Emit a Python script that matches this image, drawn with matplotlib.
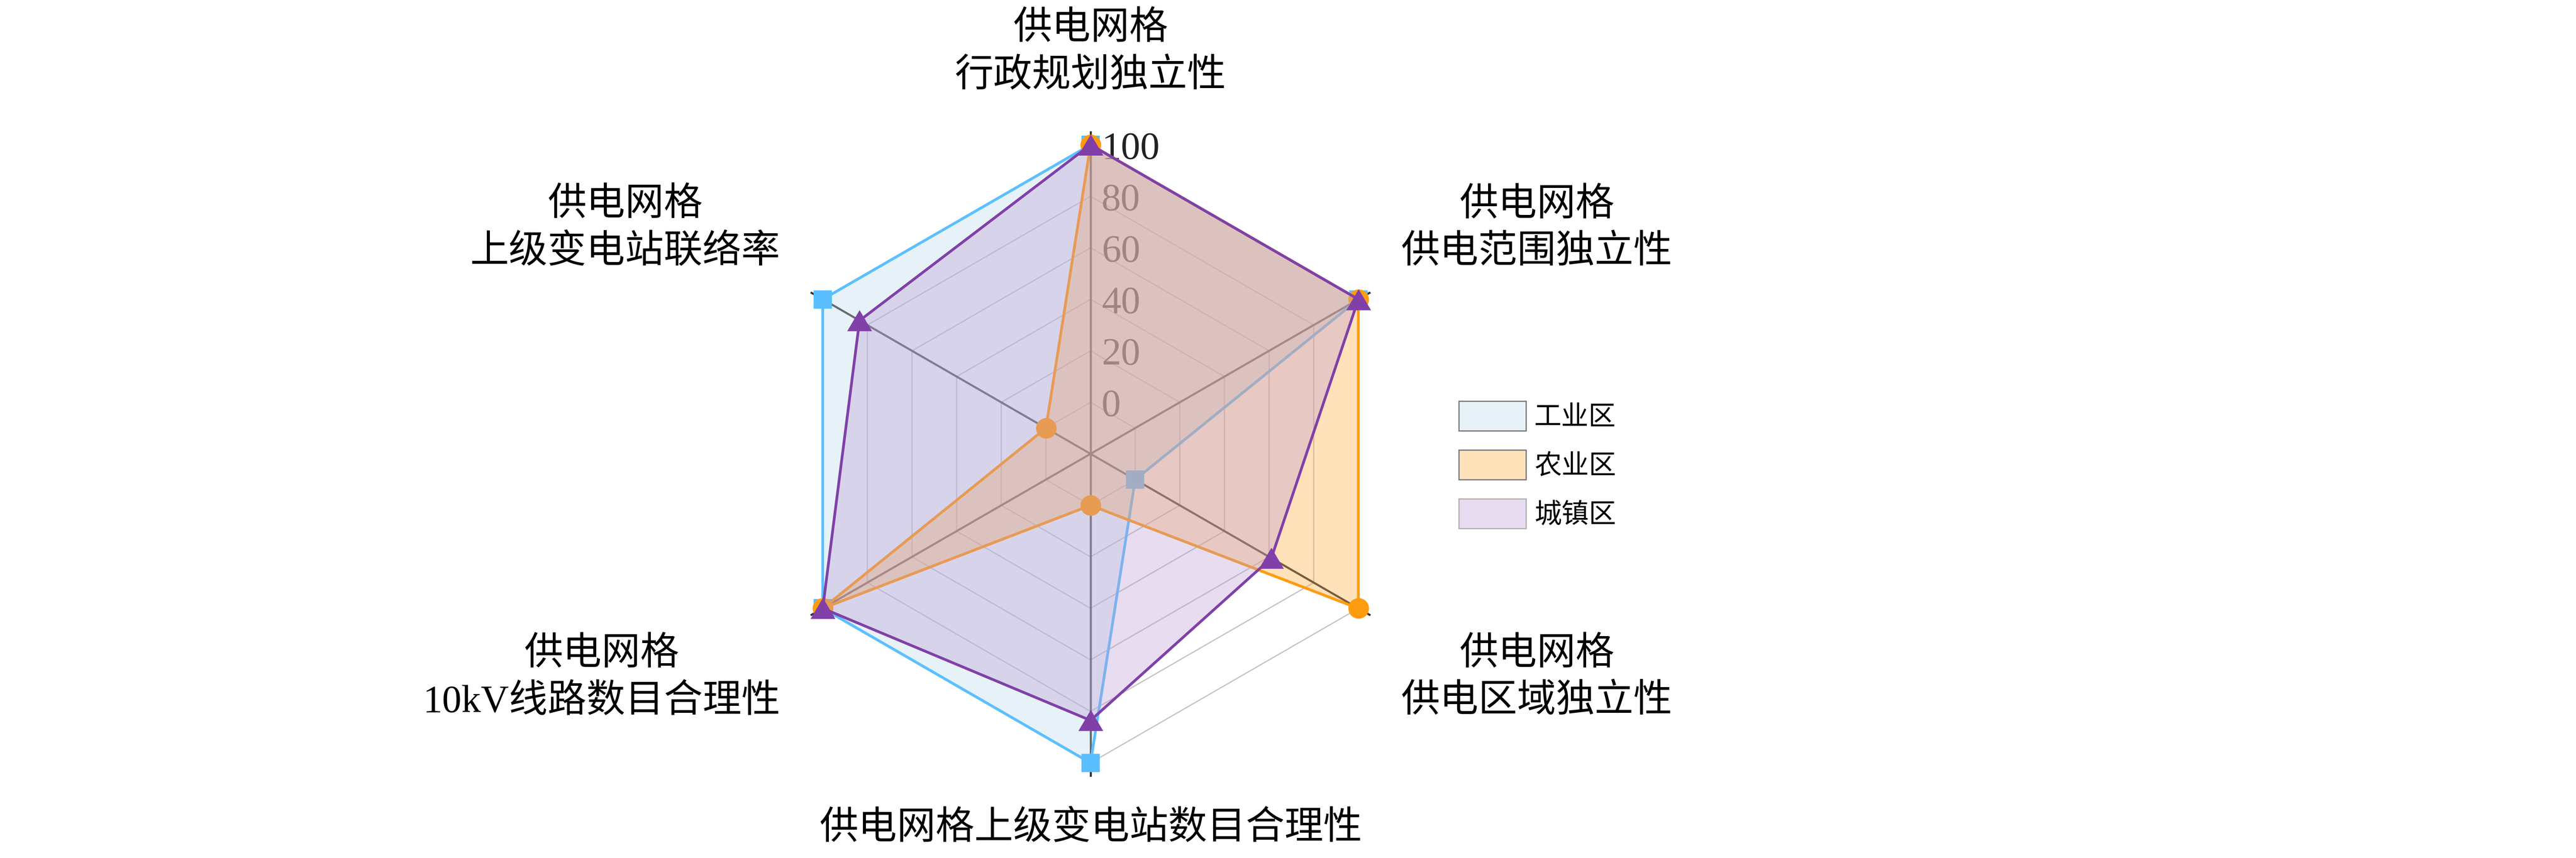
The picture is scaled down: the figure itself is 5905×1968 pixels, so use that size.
import matplotlib
matplotlib.use('Agg')
import matplotlib.pyplot as plt
import numpy as np
from matplotlib.patches import Patch
from matplotlib.colors import to_rgba

plt.rcParams['font.family'] = ['Liberation Serif', 'Noto Sans CJK SC']

# 指标（从正上方开始顺时针）
categories = ['供电网格\n行政规划独立性', '供电网格\n供电范围独立性', '供电网格\n供电区域独立性',
              '供电网格上级变电站数目合理性', '供电网格\n10kV线路数目合理性', '供电网格\n上级变电站联络率']
series_names = ['工业区', '农业区', '城镇区']
industrial = [100, 100, 0, 100, 100, 100]
agricultural = [100, 100, 100, 0, 100, 0]
urban = [100, 100, 61, 83.5, 100, 83.5]
ring_ticks = [0, 20, 40, 60, 80, 100]
R_MIN, R_MAX = -20, 100

# 样式
line_colors = ['#5BBFFF', '#FF9B0F', '#8040A8']
fill_colors = ['#B8D7EB', '#FFA93A', '#BD9BD4']
legend_edges = ['#7A7A7A', '#7A7A7A', '#B0B0B0']
FILL_ALPHA = 0.35
tri = [(0, 0.85), (-1, -0.85), (1, -0.85), (0, 0.85)]
markers = [('s', 30), ('o', 34), (tri, 41)]

# 标签位置（角度、半径、对齐）
label_theta = [0, 54.1, 125.9, 180, 234.1, 305.9]
label_r = [135.7, 128.7, 128.7, 125.7, 128.7, 128.7]
label_ha = ['center', 'left', 'left', 'center', 'right', 'right']

fig = plt.figure(figsize=(59.05, 19.68), dpi=100)
ax = fig.add_axes([0.3033, 0.1108, 0.2401, 0.7205], projection='polar')
ax.set_theta_zero_location('N')
ax.set_theta_direction(-1)
ax.set_autoscale_on(False)
ax.set_ylim(R_MIN, R_MAX)
ax.axis('off')

angles = np.deg2rad(np.arange(len(categories)) * 360 / len(categories))
ang_c = np.append(angles, angles[0])

# 网格
for r in ring_ticks:
    ax.plot(ang_c, [r] * len(ang_c), color='#C4C4C4', lw=2, zorder=1, clip_on=False)
for a in angles:
    ax.plot([a, a], [R_MIN, R_MAX + 5], color='#333333', lw=3.4, zorder=1.5, clip_on=False)
for t in ring_ticks:
    ax.annotate(str(t), xy=(0, t), xytext=(18, 0), textcoords='offset points',
                ha='left', va='center_baseline', fontsize=64, color='#222222',
                family='Liberation Serif', zorder=1.6, annotation_clip=False)

# 数据
all_vals = [industrial, agricultural, urban]
for i, vals in enumerate(all_vals):
    v = np.append(vals, vals[0])
    z = 2 + i
    ax.fill(ang_c, v, color=fill_colors[i], alpha=FILL_ALPHA, lw=0, zorder=z, clip_on=False)
    ax.plot(ang_c, v, color=line_colors[i], lw=4.5, marker=markers[i][0], ms=markers[i][1],
            mew=0, zorder=z + 0.1, clip_on=False)

for lab, th, r, ha in zip(categories, label_theta, label_r, label_ha):
    ax.text(np.deg2rad(th), r, lab, ha=ha, va='center', multialignment='center',
            fontsize=64, linespacing=1.4, zorder=10)

ax.set_ylim(R_MIN, R_MAX)

handles = [Patch(facecolor=to_rgba(fill_colors[i], FILL_ALPHA), edgecolor=legend_edges[i], lw=2)
           for i in range(3)]
fig.legend(handles, series_names, loc='upper left', bbox_to_anchor=(0.5663, 0.5325),
           frameon=False, fontsize=45, handlelength=2.47, handleheight=1.3,
           handletextpad=0.3, labelspacing=0.69, borderpad=0, borderaxespad=0)

fig.savefig('out.png', dpi=100)
